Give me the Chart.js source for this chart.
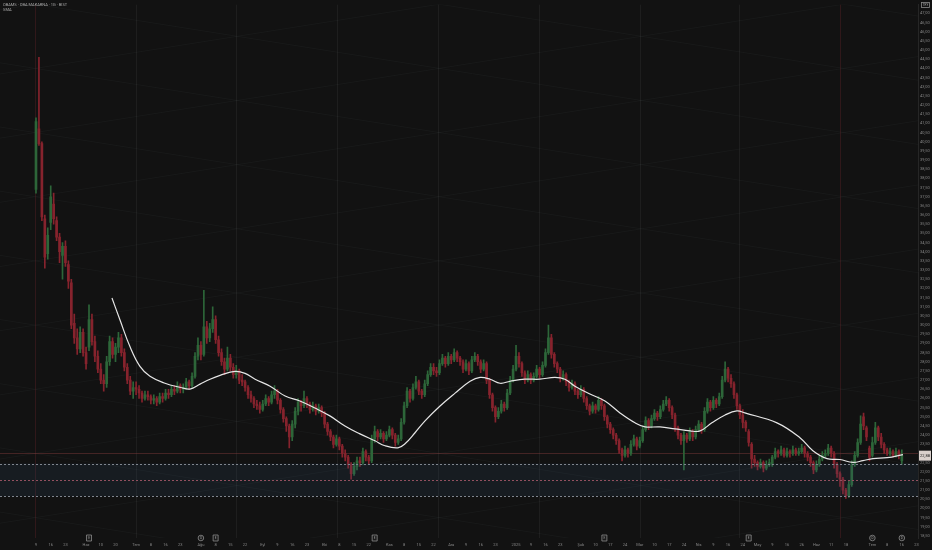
<!DOCTYPE html>
<html>
<head>
<meta charset="utf-8">
<script src="https://cdn.jsdelivr.net/npm/chart.js@4.4.1/dist/chart.umd.min.js"></script>
<style>
html, body { margin: 0; padding: 0; background: #121212; }
canvas { display: block; }
</style>
</head>
<body>
<canvas id="chart" width="932" height="550"></canvas>
<script>
// daily candles, first bar 2024-05-09, one value per trading day
var opens = [
37.4,40.7,39.9,35.8,33.9,35.6,36.6,35.7,34.8,33.8, 34.3,33.3,32.3,30.1,29.3,28.7,29.6,28.5,28.8,30.3,
29.1,28.3,27.6,27.0,26.8,28.0,29.1,28.4,28.8,29.3, 28.5,27.7,27.0,26.4,26.6,26.5,26.3,26.0,26.2,26.1,
25.9,26.0,25.8,26.1,26.0,26.3,26.2,26.5,26.4,26.7, 26.5,26.6,26.9,26.7,27.2,28.3,28.9,28.4,29.9,29.3,
29.8,30.3,29.2,28.5,28.0,27.6,28.2,27.7,27.3,27.5, 27.0,26.9,26.6,26.2,26.0,25.7,25.6,25.4,25.7,26.0,
25.8,26.2,26.4,25.9,25.4,24.9,24.5,23.9,24.6,25.3, 25.8,25.6,26.0,25.7,25.4,25.6,25.3,25.5,25.2,24.6,
24.2,23.9,23.5,23.8,23.4,23.0,22.8,22.4,21.9,22.3, 22.6,22.5,23.1,22.8,22.6,23.8,24.2,23.9,24.1,23.8,
24.0,24.3,24.0,23.6,23.8,24.7,25.6,26.4,26.0,26.6, 26.9,26.4,26.2,26.8,27.3,27.7,27.5,27.4,27.9,28.2,
27.9,28.3,28.1,28.5,28.2,28.0,27.6,27.9,27.5,28.1, 28.3,28.0,27.6,27.9,27.0,26.2,25.5,25.0,25.3,25.7,
25.5,26.3,27.0,27.6,28.3,27.9,27.4,27.0,27.3,27.0, 27.2,27.6,27.3,27.8,28.5,29.3,28.4,27.9,27.6,27.1,
27.3,26.9,26.6,26.8,26.4,26.2,26.5,26.0,25.6,25.3, 25.6,25.4,25.9,25.6,25.0,24.6,24.3,24.0,23.7,23.2,
22.9,23.2,23.0,23.5,23.8,23.4,23.7,24.3,24.8,24.5, 24.9,25.2,25.0,25.4,25.7,25.9,25.5,25.1,24.4,24.0,
23.7,24.0,23.8,24.2,23.9,24.3,24.6,24.3,25.3,25.8, 25.5,25.9,25.7,26.1,27.0,27.6,27.1,26.8,26.2,25.6,
25.1,24.7,24.2,23.5,22.7,22.5,22.3,22.5,22.2,22.4, 22.4,22.8,23.1,23.0,23.2,22.9,23.1,23.0,23.2,23.0,
23.1,23.3,23.0,22.8,22.5,22.1,22.4,22.7,22.9,23.0, 23.3,23.0,22.4,21.9,21.6,21.0,20.7,21.3,22.4,22.9,
23.6,25.0,24.4,23.3,22.9,23.6,24.4,23.9,23.5,23.2, 23.0,23.1,22.9,23.1,22.6
];
var highs = [
41.3,44.6,40.0,36.0,35.3,37.6,37.2,35.9,35.0,34.5, 34.6,33.5,32.5,30.6,29.8,29.9,29.8,28.8,31.1,30.6,
29.4,28.6,27.9,27.3,28.3,29.4,29.3,29.0,29.6,29.5, 28.7,27.9,27.2,26.9,26.9,26.7,26.4,26.4,26.4,26.2,
26.2,26.1,26.3,26.3,26.5,26.5,26.7,26.7,26.9,26.8, 26.8,27.1,27.0,27.4,28.5,29.3,29.1,31.9,30.2,30.1,
31.0,30.5,29.4,28.7,28.2,28.8,28.4,27.9,27.8,27.6, 27.3,27.0,26.7,26.4,26.1,25.9,25.8,25.9,26.2,26.1,
26.4,26.7,26.5,26.0,25.5,25.0,24.6,24.8,25.5,26.0, 25.9,26.4,26.1,25.8,25.8,25.7,25.7,25.6,25.3,24.7,
24.3,24.0,24.0,23.9,23.5,23.2,22.9,22.5,22.5,22.8, 22.8,23.3,23.2,22.9,24.0,24.5,24.3,24.3,24.2,24.2,
24.5,24.4,24.1,24.0,24.9,25.8,26.6,26.5,26.8,27.2, 27.0,26.5,27.0,27.5,27.9,27.9,27.7,28.1,28.4,28.3,
28.5,28.4,28.7,28.6,28.3,28.1,28.1,28.0,28.3,28.5, 28.4,28.1,28.1,28.0,27.1,26.3,25.6,25.5,25.9,25.8,
26.5,27.2,27.8,28.9,28.5,28.0,27.5,27.5,27.4,27.4, 27.8,27.7,28.0,28.7,30.0,29.5,28.5,28.0,27.7,27.5,
27.4,27.0,27.0,26.9,26.5,26.7,26.6,26.1,25.7,25.8, 25.7,26.1,26.0,25.7,25.1,24.7,24.4,24.1,23.8,23.3,
23.4,23.3,23.7,24.0,23.9,23.9,24.5,25.0,24.9,25.1, 25.4,25.3,25.6,25.9,26.1,26.0,25.6,25.2,24.5,24.1,
24.2,24.1,24.4,24.3,24.5,24.8,24.7,25.5,26.0,25.9, 26.1,26.0,26.3,27.2,28.0,27.7,27.3,26.9,26.3,25.7,
25.4,24.8,24.3,23.6,22.9,22.6,22.7,22.6,22.6,22.7, 22.9,23.3,23.2,23.4,23.3,23.3,23.2,23.4,23.3,23.3,
23.5,23.4,23.1,22.9,22.6,22.6,22.9,23.1,23.2,23.5, 23.4,23.1,22.5,22.0,21.7,21.1,21.5,22.6,23.1,23.8,
25.05,25.2,24.5,23.4,23.9,24.7,24.5,24.1,23.6,23.3, 23.3,23.2,23.3,23.2,23.2
];
var lows = [
37.2,39.8,35.7,33.1,33.6,35.2,35.5,34.6,33.4,32.5, 33.2,32.0,29.8,29.0,28.4,28.5,28.3,27.6,28.6,28.9,
28.0,27.4,26.8,26.4,26.6,27.8,28.2,28.0,28.5,28.3, 27.5,26.8,26.2,26.0,26.2,26.0,25.8,25.9,25.9,25.7,
25.7,25.6,25.7,25.8,25.9,26.0,26.1,26.2,26.3,26.3, 26.3,26.5,26.5,26.6,27.1,28.1,28.1,28.3,29.0,29.1,
29.6,29.0,28.3,27.8,27.3,27.5,27.5,27.1,27.1,26.8, 26.7,26.4,26.0,25.8,25.5,25.4,25.2,25.3,25.6,25.6,
25.7,26.0,25.7,25.2,24.7,24.2,23.3,23.7,24.4,25.1, 25.3,25.5,25.5,25.2,25.3,25.1,25.2,25.0,24.4,24.0,
23.7,23.3,23.4,23.2,22.8,22.6,22.2,21.6,21.8,22.1, 22.3,22.4,22.6,22.4,22.5,23.6,23.7,23.8,23.6,23.7,
23.9,23.8,23.4,23.5,23.7,24.6,25.5,25.8,25.9,26.5, 26.2,26.0,26.1,26.7,27.2,27.3,27.2,27.3,27.8,27.7,
27.8,27.9,28.0,28.0,27.8,27.4,27.5,27.3,27.4,28.0, 27.8,27.4,27.5,26.8,26.0,25.3,24.7,24.9,25.2,25.3,
25.4,26.2,26.9,27.5,27.7,27.2,26.8,26.9,26.8,26.9, 27.1,27.1,27.2,27.7,28.4,28.2,27.7,27.4,26.9,27.0,
26.7,26.4,26.5,26.2,26.0,26.1,25.8,25.4,25.1,25.2, 25.2,25.3,25.4,24.8,24.4,24.1,23.8,23.5,23.0,22.6,
22.8,22.8,22.9,23.4,23.2,23.3,23.6,24.2,24.3,24.4, 24.8,24.8,24.9,25.3,25.6,25.3,24.9,24.2,23.8,23.5,
22.1,23.6,23.7,23.7,23.8,24.2,24.1,24.2,25.2,25.3, 25.4,25.5,25.6,26.0,26.9,26.9,26.6,26.0,25.4,24.9,
24.4,24.2,23.4,22.2,22.3,22.1,22.2,22.0,22.1,22.3, 22.3,22.7,22.8,22.9,22.8,22.8,22.8,22.9,22.9,22.9,
23.0,22.8,22.6,22.3,21.9,22.0,22.3,22.6,22.8,22.9, 22.8,22.2,21.7,21.2,20.8,20.55,20.6,21.2,22.3,22.8,
23.5,24.3,23.7,22.6,22.8,23.5,23.7,23.3,23.0,22.9, 22.9,22.8,22.8,22.7,22.4
];
var closes = [
41.1,39.9,35.9,33.7,34.9,37.0,35.8,34.8,34.0,34.3, 33.4,32.4,30.0,29.3,28.7,29.6,28.5,27.9,30.3,29.1,
28.3,27.6,27.0,26.8,28.0,29.1,28.4,28.8,29.3,28.5, 27.7,27.0,26.4,26.6,26.5,26.3,26.0,26.2,26.1,25.9,
26.0,25.8,26.1,26.0,26.3,26.2,26.5,26.4,26.7,26.5, 26.6,26.9,26.7,27.2,28.3,28.9,28.4,29.9,29.3,29.8,
30.3,29.2,28.5,28.0,27.6,28.2,27.7,27.3,27.5,27.0, 26.9,26.6,26.2,26.0,25.7,25.6,25.4,25.7,26.0,25.8,
26.2,26.4,25.9,25.4,24.9,24.5,23.9,24.6,25.3,25.8, 25.6,26.0,25.7,25.4,25.6,25.3,25.5,25.2,24.6,24.2,
23.9,23.5,23.8,23.4,23.0,22.8,22.4,21.9,22.3,22.6, 22.5,23.1,22.8,22.6,23.8,24.2,23.9,24.1,23.8,24.0,
24.3,24.0,23.6,23.8,24.7,25.6,26.4,26.0,26.6,26.9, 26.4,26.2,26.8,27.3,27.7,27.5,27.4,27.9,28.2,27.9,
28.3,28.1,28.5,28.2,28.0,27.6,27.9,27.5,28.1,28.3, 28.0,27.6,27.9,27.0,26.2,25.5,25.0,25.3,25.7,25.5,
26.3,27.0,27.6,28.3,27.9,27.4,27.0,27.3,27.0,27.2, 27.6,27.3,27.8,28.5,29.3,28.4,27.9,27.6,27.1,27.3,
26.9,26.6,26.8,26.4,26.2,26.5,26.0,25.6,25.3,25.6, 25.4,25.9,25.6,25.0,24.6,24.3,24.0,23.7,23.2,22.9,
23.2,23.0,23.5,23.8,23.4,23.7,24.3,24.8,24.5,24.9, 25.2,25.0,25.4,25.7,25.9,25.5,25.1,24.4,24.0,23.7,
24.0,23.8,24.2,23.9,24.3,24.6,24.3,25.3,25.8,25.5, 25.9,25.7,26.1,27.0,27.6,27.1,26.8,26.2,25.6,25.1,
24.7,24.4,23.6,22.7,22.5,22.3,22.5,22.2,22.4,22.5, 22.8,23.1,23.0,23.2,22.9,23.1,23.0,23.2,23.0,23.1,
23.3,23.0,22.8,22.5,22.1,22.4,22.7,22.9,23.0,23.3, 23.0,22.4,21.9,21.6,21.0,20.7,21.3,22.4,22.9,23.6,
24.6,24.5,23.9,22.8,23.6,24.4,23.9,23.5,23.2,23.0, 23.1,22.9,23.1,22.9,22.88
];

// moving average (bar position, price)
var maBars = [25.8,28.5,31.9,35.3,38.7,43.8,48.9,52.3,55.7,59.1,62.5,67.6,71,74.4,79.5,84.6,89.6,94.7,99.8,104.9,
  110,115.1,118.5,122.9,125.3,128.7,132.1,137.2,142.3,147.4,150.8,154.2,157.6,161,166,171.1,176.2,179.6,183,188.1,
  193.2,198.3,203.4,206.8,211.9,217,222.1,225.5,229.5,234,238,240.7,251.6,259.4,263.8,268.6,273,277.4,280.8,284.2,289,294.4];
var maValues = [31.48,30.29,28.83,27.75,27.21,26.83,26.61,26.51,26.78,27.05,27.26,27.48,27.37,27.05,26.67,26.13,25.86,25.48,25.05,24.5,
  24.07,23.69,23.42,23.31,23.53,24.13,24.78,25.59,26.29,26.94,27.15,27.05,26.83,26.94,27.05,27.05,27.15,27.05,26.67,26.24,
  25.86,25.21,24.67,24.45,24.45,24.34,24.23,24.23,24.67,25.10,25.32,25.21,24.67,23.86,23.15,22.72,22.67,22.51,22.61,22.72,22.77,22.94];

// BIST closed days inside the range
var holidays = ['2024-06-17','2024-06-18','2024-06-19','2024-07-15','2024-08-30','2024-10-29','2025-01-01',
  '2025-03-31','2025-04-01','2025-04-23','2025-05-01','2025-05-19','2025-06-06','2025-06-09','2025-07-15'];

var xTickDates = ['2024-05-09','2024-05-16','2024-05-23','2024-06-03','2024-06-10','2024-06-20','2024-07-01','2024-07-08','2024-07-16','2024-07-23',
  '2024-08-01','2024-08-08','2024-08-15','2024-08-22','2024-09-02','2024-09-09','2024-09-16','2024-09-23','2024-10-01','2024-10-08',
  '2024-10-15','2024-10-22','2024-11-01','2024-11-08','2024-11-15','2024-11-22','2024-12-02','2024-12-09','2024-12-16','2024-12-23',
  '2025-01-02','2025-01-09','2025-01-16','2025-01-23','2025-02-03','2025-02-10','2025-02-17','2025-02-24','2025-03-03','2025-03-10',
  '2025-03-17','2025-03-24','2025-04-02','2025-04-09','2025-04-16','2025-04-24','2025-05-02','2025-05-09','2025-05-16','2025-05-26',
  '2025-06-02','2025-06-11','2025-06-18','2025-07-01','2025-07-08','2025-07-16','2025-07-23'];
var xTickLabels = ['9','16','23','Haz','10','20','Tem','8','16','23',
  'Ağu','8','15','22','Eyl','9','16','23','Eki','8',
  '15','22','Kas','8','15','22','Ara','9','16','23',
  '2025','9','16','23','Şub','10','17','24','Mar','10',
  '17','24','Nis','9','16','24','May','9','16','26',
  'Haz','11','18','Tem','8','16','23'];

// zone drawn on the chart (price levels)
var zoneTop = 22.45, zoneMid = 21.56, zoneBottom = 20.67;
var priceLine = 23.0;
// event markers on the time axis (bar index, kind)
var eventBars = [18, 56, 61, 115, 193, 242, 284, 294];
var eventKinds = ['E', 'D', 'E', 'E', 'E', 'E', 'D', 'D'];
var cycleBars = [-0.3, 34, 67.9, 102.2, 136.5, 170.8, 205.1, 238.7, 273];

var titleText = 'OBAMS · OBA MAKARNA · 1G · BIST';
var subText = 'SMA';
var currency = 'TRY';

var xMin = -12.22, xMax = 299.49, yMin = 18.39, yMax = 47.49;

// trading days
var dates = [];
var d = new Date(Date.UTC(2024, 4, 9));
while (dates.length < 305) {
	var wd = d.getUTCDay();
	var s = d.toISOString().slice(0, 10);
	if (wd != 0 && wd != 6 && holidays.indexOf(s) < 0) dates.push(s);
	d = new Date(d.getTime() + 86400000);
}
var xTickIdx = xTickDates.map(function (s) { return dates.indexOf(s); });

var yTickValues = [];
for (var v = 18.5; v <= 47.0001; v += 0.5) yTickValues.push(Math.round(v * 100) / 100);

var UP = '#2d6639', DOWN = '#86232d';
var wickData = [], bodyData = [], colors = [];
for (var i = 0; i < closes.length; i++) {
	wickData.push({ x: i, y: [lows[i], highs[i]] });
	bodyData.push({ x: i, y: [opens[i], closes[i]] });
	colors.push(closes[i] >= opens[i] ? UP : DOWN);
}
var maData = maBars.map(function (b, k) { return { x: b, y: maValues[k] }; });

function fmt(v) { return v.toFixed(2).replace('.', ','); }

var drawings = {
	id: 'drawings',
	beforeDatasetsDraw: function (chart) {
		var ctx = chart.ctx, a = chart.chartArea, xs = chart.scales.x, ys = chart.scales.y;
		ctx.save();
		ctx.beginPath();
		ctx.rect(a.left, a.top, a.right - a.left, a.bottom - a.top);
		ctx.clip();
		// faint lattice
		ctx.lineWidth = 1;
		ctx.strokeStyle = 'rgba(190,195,210,0.04)';
		var sl = 0.0255;
		for (var k = -14; k <= 14; k++) {
			var p0 = 30 + 3.5 * k;
			ctx.beginPath();
			ctx.moveTo(xs.getPixelForValue(xMin), ys.getPixelForValue(p0 + sl * (xMin + 0.3)));
			ctx.lineTo(xs.getPixelForValue(xMax), ys.getPixelForValue(p0 + sl * (xMax + 0.3)));
			ctx.stroke();
			ctx.beginPath();
			ctx.moveTo(xs.getPixelForValue(xMin), ys.getPixelForValue(p0 - sl * (xMin + 0.3)));
			ctx.lineTo(xs.getPixelForValue(xMax), ys.getPixelForValue(p0 - sl * (xMax + 0.3)));
			ctx.stroke();
		}
		// cycle lines
		cycleBars.forEach(function (b, k) {
			var x = Math.round(xs.getPixelForValue(b)) + 0.5;
			ctx.strokeStyle = (k == 0 || k == cycleBars.length - 1) ? 'rgba(120,40,45,0.3)' : 'rgba(120,120,120,0.12)';
			ctx.beginPath();
			ctx.moveTo(x, a.top);
			ctx.lineTo(x, a.bottom);
			ctx.stroke();
		});
		// last price line
		var py = Math.round(ys.getPixelForValue(priceLine)) + 0.5;
		ctx.strokeStyle = 'rgba(130,60,60,0.45)';
		ctx.beginPath();
		ctx.moveTo(a.left, py);
		ctx.lineTo(a.right, py);
		ctx.stroke();
		ctx.restore();
	},
	afterDatasetsDraw: function (chart) {
		var ctx = chart.ctx, a = chart.chartArea, ys = chart.scales.y;
		ctx.save();
		var yt = ys.getPixelForValue(zoneTop), yb = ys.getPixelForValue(zoneBottom), ym = ys.getPixelForValue(zoneMid);
		ctx.fillStyle = 'rgba(60,90,130,0.14)';
		ctx.fillRect(a.left, yt, a.right - a.left, yb - yt);
		ctx.setLineDash([2, 2]);
		ctx.lineWidth = 1;
		[[yt, '#7f858e'], [ym, '#93505f'], [yb, '#7f858e']].forEach(function (l) {
			var y = Math.round(l[0]) + 0.5;
			ctx.strokeStyle = l[1];
			ctx.beginPath();
			ctx.moveTo(a.left, y);
			ctx.lineTo(a.right, y);
			ctx.stroke();
		});
		ctx.restore();
	},
	afterDraw: function (chart) {
		var ctx = chart.ctx, a = chart.chartArea, xs = chart.scales.x, ys = chart.scales.y;
		ctx.save();
		// title
		ctx.font = '4px Roboto';
		ctx.fillStyle = '#a9a9a9';
		ctx.textBaseline = 'middle';
		ctx.fillText(titleText, 3, 5);
		ctx.fillText(subText, 3, 10);
		// currency box
		ctx.strokeStyle = '#8a8a8a';
		ctx.lineWidth = 0.8;
		ctx.strokeRect(921.5, 2.5, 8, 5);
		ctx.font = '3px Roboto';
		ctx.textAlign = 'center';
		ctx.fillText(currency, 925.5, 5.2);
		// last price box
		var last = closes[closes.length - 1];
		var by = ys.getPixelForValue(last);
		ctx.fillStyle = '#d9d0cc';
		ctx.fillRect(a.right + 1, by - 5, 12, 10);
		ctx.fillStyle = '#1a1a1a';
		ctx.font = '4px Roboto';
		ctx.fillText(fmt(last), a.right + 7, by);
		// event markers
		eventBars.forEach(function (b, k) {
			var x = xs.getPixelForValue(b), y = a.bottom;
			ctx.fillStyle = '#1b1b1b';
			ctx.strokeStyle = '#8c8c8c';
			ctx.lineWidth = 0.8;
			ctx.beginPath();
			if (eventKinds[k] == 'D') ctx.arc(x, y, 2.8, 0, Math.PI * 2);
			else ctx.rect(x - 2.5, y - 3, 5, 6);
			ctx.fill();
			ctx.stroke();
			ctx.fillStyle = '#9a9a9a';
			ctx.font = '3px Roboto';
			ctx.fillText(eventKinds[k], x, y + 0.2);
		});
		ctx.restore();
	}
};

new Chart(document.getElementById('chart'), {
	type: 'bar',
	data: {
		datasets: [
			{
				type: 'line',
				data: maData,
				borderColor: '#e6e6e6',
				borderWidth: 1.2,
				pointRadius: 0,
				tension: 0.4,
				order: 0
			},
			{
				data: bodyData,
				backgroundColor: colors,
				barThickness: 2,
				grouped: false,
				minBarLength: 1,
				order: 1
			},
			{
				data: wickData,
				backgroundColor: colors,
				barThickness: 1,
				grouped: false,
				order: 2
			}
		]
	},
	options: {
		responsive: false,
		animation: false,
		devicePixelRatio: 1,
		layout: { padding: 0 },
		plugins: { legend: { display: false }, tooltip: { enabled: false } },
		scales: {
			x: {
				type: 'linear',
				min: xMin,
				max: xMax,
				offset: false,
				grid: { display: false, drawTicks: false },
				border: { display: false },
				afterBuildTicks: function (scale) {
					scale.ticks = xTickIdx.map(function (v) { return { value: v }; });
				},
				afterFit: function (scale) { scale.height = 12; },
				ticks: {
					autoSkip: false,
					maxRotation: 0,
					padding: 5,
					color: '#868686',
					font: { family: 'Roboto', size: 4 },
					callback: function (v, i) { return xTickLabels[i]; }
				}
			},
			y: {
				position: 'right',
				min: yMin,
				max: yMax,
				grid: { display: false, drawTicks: false },
				border: { display: true, color: '#262626' },
				afterBuildTicks: function (scale) {
					scale.ticks = yTickValues.map(function (v) { return { value: v }; });
				},
				afterFit: function (scale) { scale.width = 14; },
				ticks: {
					autoSkip: false,
					padding: 2,
					color: '#868686',
					font: { family: 'Roboto', size: 4 },
					callback: function (v) { return fmt(v); }
				}
			}
		}
	},
	plugins: [drawings]
});
</script>
</body>
</html>
